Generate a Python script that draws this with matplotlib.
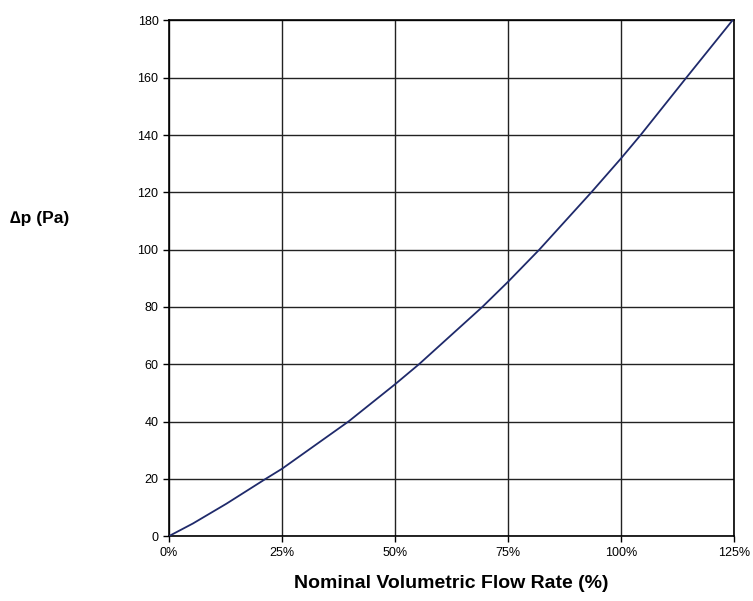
import matplotlib.pyplot as plt
from matplotlib.ticker import FuncFormatter

# values
flow_pct = [0, 5.3, 12.7, 21.4, 25, 39.7, 50, 55.3, 69.3, 75, 81.9, 93.4, 100, 104.3, 114.4, 124.6]
dp_pa = [0, 4.4, 11.3, 20, 23.5, 40, 53, 60, 80, 88.8, 100, 120, 131.9, 140, 160, 180]

x_ticks = [0, 25, 50, 75, 100, 125]
y_ticks = list(range(0, 181, 20))

plt.rcParams['font.family'] = ['Liberation Sans', 'DejaVu Sans']

fig = plt.figure(figsize=(7.53, 6.01), dpi=100)
ax = fig.add_axes([0.2244, 0.108, 0.7506, 0.8579])

ax.plot(flow_pct, dp_pa, color='#1f2a6b', lw=1.3, zorder=3)

ax.set_xlim(0, 125)
ax.set_ylim(0, 180)
ax.set_xticks(x_ticks)
ax.set_yticks(y_ticks)
ax.xaxis.set_major_formatter(FuncFormatter(lambda v, p: f"{int(v)}%"))
ax.tick_params(direction='out', length=4, width=1, labelsize=9, colors='black')

ax.grid(True, color='#222222', lw=1)
ax.set_axisbelow(True)
for s in ax.spines.values():
    s.set_color('black')
    s.set_linewidth(1.2)

ax.set_xlabel('Nominal Volumetric Flow Rate (%)', fontsize=14, fontweight='bold', labelpad=12)
fig.text(0.013, 0.637, '\u2206p (Pa)', fontsize=12.5, fontweight='bold', ha='left', va='center')

fig.savefig('out.png', dpi=100)
